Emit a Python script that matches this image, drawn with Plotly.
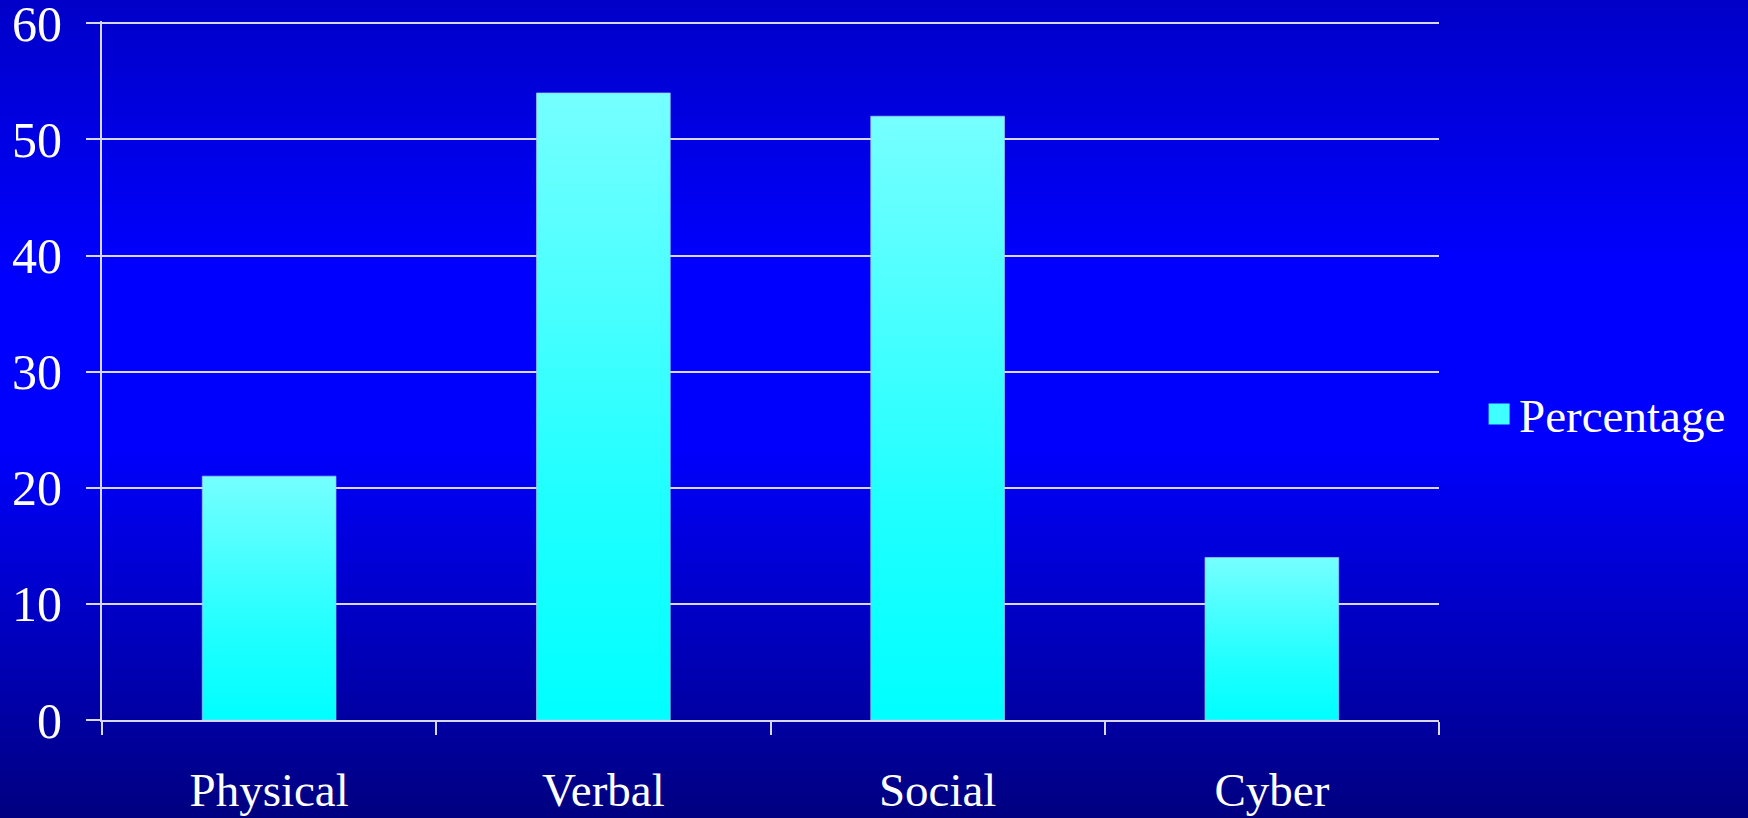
import plotly.graph_objects as go

categories = ["Physical", "Verbal", "Social", "Cyber"]
percentage = [21, 54, 52, 14]
y_ticks = [0, 10, 20, 30, 40, 50, 60]
series_name = "Percentage"

W, H = 1748, 818
ML, MR, MT, MB = 102, 309, 21, 98
PW, PH = W - ML - MR, H - MT - MB

FONT = "Liberation Serif, Times New Roman, serif"
LINE = "rgb(215,215,255)"

fig = go.Figure()

# background vertical gradient (figure-wide) built from stripes in paper coords
def bg_color(f):
    # f: 0 at top, 1 at bottom
    stops = [(0.0, 200), (0.33, 255), (0.55, 252), (1.0, 128)]
    for (a, ca), (b, cb) in zip(stops[:-1], stops[1:]):
        if a <= f <= b:
            t = (f - a) / (b - a)
            return int(round(ca + (cb - ca) * t))
    return stops[-1][1]

n = 205
shapes = []
for i in range(n):
    py0 = H * i / n - (30 if i == 0 else 0)
    py1 = H * (i + 1) / n + (1 if i < n - 1 else 40)
    f = (i + 0.5) / n
    b = bg_color(f)
    shapes.append(dict(
        type="rect", xref="paper", yref="paper", layer="below",
        x0=(-ML - 40) / PW, x1=(W - ML + 40) / PW,
        y0=(H - MB - py1) / PH, y1=(H - MB - py0) / PH,
        fillcolor=f"rgb(0,0,{b})", line=dict(width=0),
    ))

half = 0.2
for i, (cat, v) in enumerate(zip(categories, percentage)):
    fig.add_trace(go.Scatter(
        x=[i - half, i + half, i + half, i - half, i - half],
        y=[0, 0, v, v, 0],
        mode="lines", fill="toself",
        fillgradient=dict(type="vertical",
                          colorscale=[[0, "#00FFFF"], [0.35, "#1FFFFF"], [1, "#76FFFF"]]),
        line=dict(color="rgba(160,200,255,0.7)", width=1),
        name=cat, showlegend=False, hoverinfo="x+y",
    ))

# legend entry
fig.add_trace(go.Scatter(
    x=[None], y=[None], mode="markers", name=series_name,
    marker=dict(symbol="square", size=16, color="#40FFFF",
                line=dict(color="#40FFFF", width=5)),
    showlegend=True,
))

fig.update_layout(
    width=W, height=H,
    margin=dict(l=ML, r=MR, t=MT, b=MB, pad=0, autoexpand=False),
    paper_bgcolor="rgb(0,0,140)", plot_bgcolor="rgba(0,0,0,0)",
    shapes=shapes,
    font=dict(family=FONT, color="white", size=46),
    showlegend=True,
    legend=dict(x=1.030, y=0.437, xanchor="left", yanchor="middle",
                font=dict(family=FONT, size=47, color="white"),
                bgcolor="rgba(0,0,0,0)", itemsizing="trace"),
    xaxis=dict(
        range=[-0.5, len(categories) - 0.5], automargin=False,
        tickmode="array", tickvals=list(range(len(categories))), ticktext=categories,
        ticks="", showgrid=False, zeroline=False,
        showline=True, linecolor=LINE, linewidth=2,
        tickfont=dict(family=FONT, size=47, color="white"),
        ticklabelstandoff=28,
        minor=dict(tickmode="linear", tick0=-0.5, dtick=1, ticks="outside",
                   ticklen=13, tickwidth=2, tickcolor=LINE, showgrid=False),
    ),
    yaxis=dict(
        range=[0, 60.2], tickmode="array", tickvals=y_ticks, automargin=False,
        ticks="outside", ticklen=14, tickwidth=2, tickcolor=LINE,
        showgrid=True, gridcolor=LINE, gridwidth=2, zeroline=False,
        showline=True, linecolor=LINE, linewidth=2,
        tickfont=dict(family=FONT, size=50, color="white"),
        ticklabelstandoff=14, ticklabeloverflow="allow",
    ),
)

fig.write_html("out.html")
